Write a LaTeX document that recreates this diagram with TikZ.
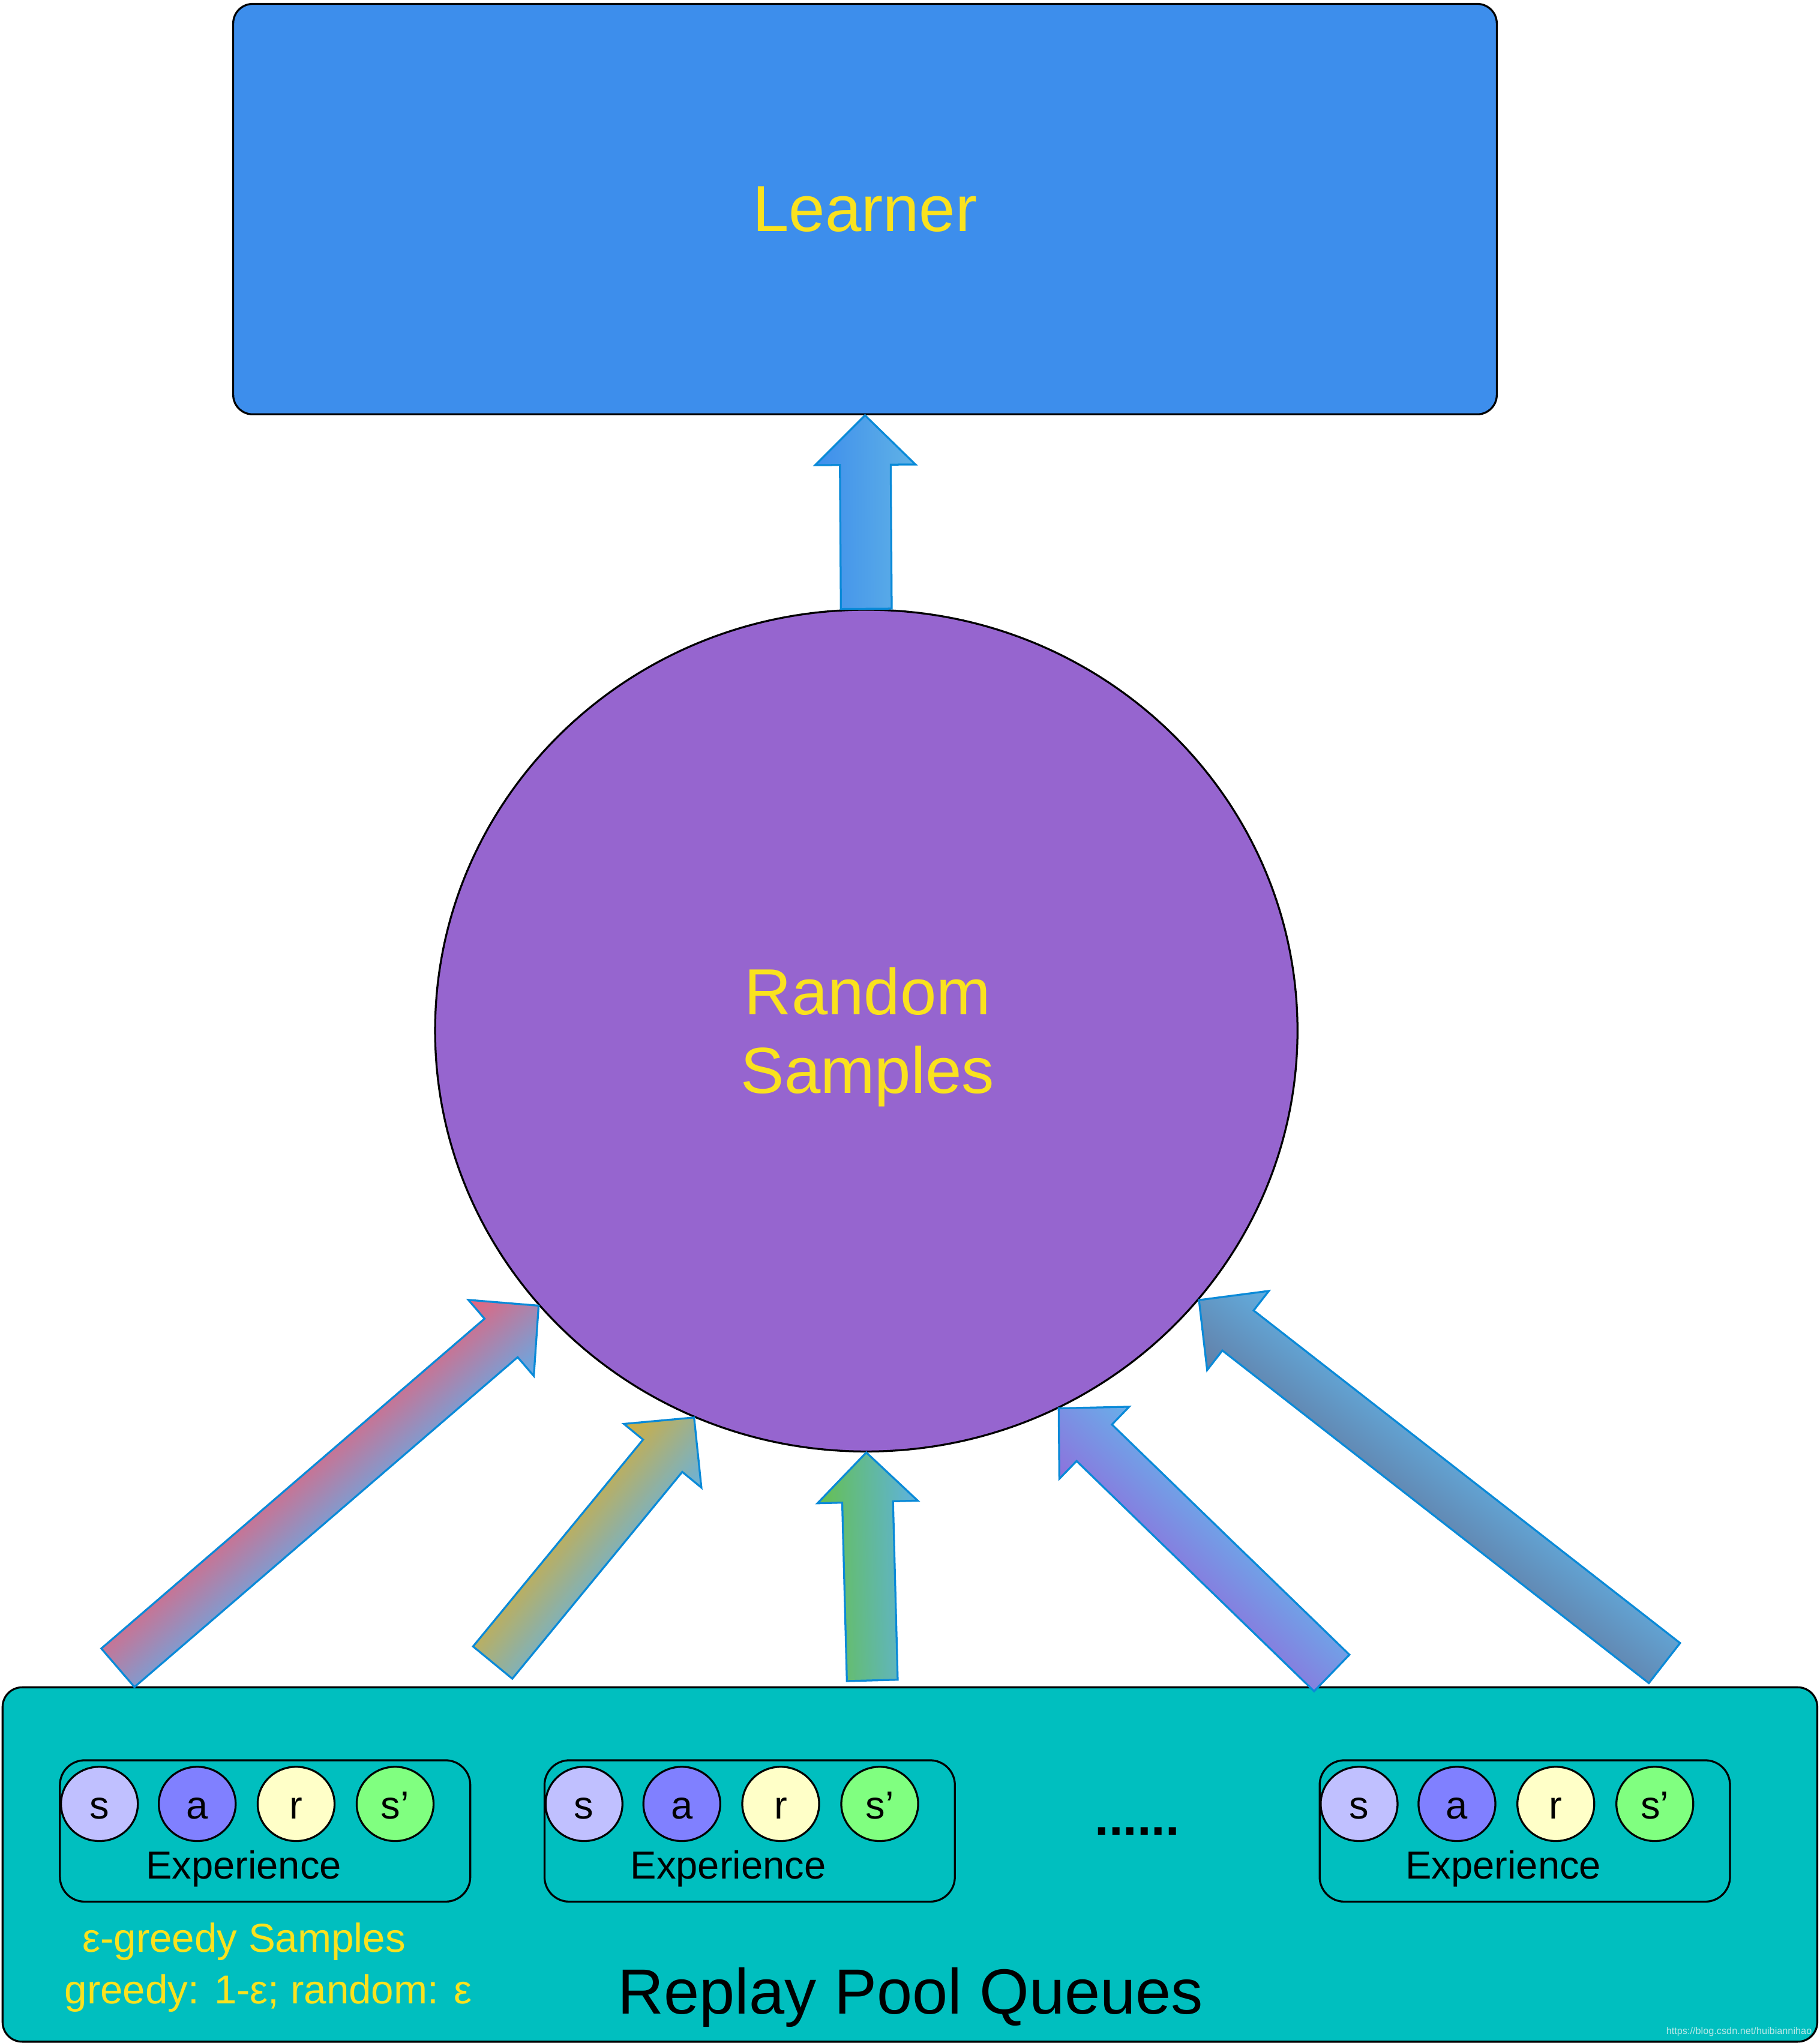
\documentclass[tikz,border=0pt]{standalone}
\usepackage{fontspec}
\setmainfont{Liberation Sans}
\usetikzlibrary{calc,shapes.geometric}

\definecolor{learnerblue}{RGB}{61,142,236}
\definecolor{circpurple}{RGB}{150,101,207}
\definecolor{poolteal}{RGB}{0,191,191}
\definecolor{ylw}{RGB}{250,226,30}
\definecolor{arrowedge}{RGB}{10,138,216}
\definecolor{cS}{RGB}{192,192,255}
\definecolor{cA}{RGB}{128,128,255}
\definecolor{cR}{RGB}{255,255,200}
\definecolor{cSp}{RGB}{128,255,128}
\definecolor{wmkcol}{RGB}{185,232,232}

% block arrow from named point #1 (tail) to named point #2 (tip);
% #3 = colour on the left side, #4 = colour on the right side
\newcommand\blockarrow[4]{%
  \path let \p1=($(#2)-(#1)$) in \pgfextra{%
    \pgfmathsetmacro\baang{atan2(\y1,\x1)}%
    \pgfmathsetmacro\balen{veclen(\x1,\y1)}%
    \pgfmathsetmacro\baneck{\balen-38}%
    \xdef\baang{\baang}\xdef\balen{\balen}\xdef\baneck{\baneck}};
  \begin{scope}[transform canvas={shift={(#1)},rotate=\baang}]
    \path[blockarrowstyle,top color=#3,bottom color=#4]
      (0pt,19.5pt) -- (\baneck pt,19.5pt) -- (\baneck pt,38.5pt) -- (\balen pt,0pt)
      -- (\baneck pt,-38.5pt) -- (\baneck pt,-19.5pt) -- (0pt,-19.5pt) -- cycle;
  \end{scope}}

\begin{document}
\begin{tikzpicture}[x=1pt,y=-1pt,
  blk/.style={draw=black,line width=1.5pt},
  learnerbox/.style={blk,rectangle,rounded corners=15pt,fill=learnerblue,minimum width=970pt,minimum height=315pt,inner sep=0pt,text=ylw,font=\fontsize{50pt}{60pt}\selectfont},
  samplecircle/.style={blk,ellipse,fill=circpurple,minimum width=662pt,minimum height=646pt,inner sep=0pt},
  bigtext/.style={text=ylw,align=center,font=\fontsize{50pt}{60.5pt}\selectfont,inner sep=0pt},
  poolbox/.style={blk,rectangle,rounded corners=15pt,fill=poolteal,minimum width=1393pt,minimum height=272pt,inner sep=0pt},
  pooltext/.style={font=\fontsize{49pt}{58pt}\selectfont,inner sep=0pt,anchor=base},
  expbox/.style={blk,rectangle,rounded corners=19pt,minimum width=315pt,minimum height=108.5pt,inner sep=0pt},
  ltr/.style={blk,ellipse,minimum width=59pt,minimum height=57pt,inner sep=0pt,text height=23pt,text depth=0pt,font=\fontsize{30pt}{36pt}\selectfont},
  exptext/.style={font=\fontsize{30pt}{36pt}\selectfont,inner sep=0pt,anchor=base},
  ytext/.style={text=ylw,font=\fontsize{31pt}{37pt}\selectfont,inner sep=0pt,anchor=base west},
  ellipsisdots/.style={font=\bfseries\fontsize{39pt}{45pt}\selectfont,inner sep=0pt,anchor=base},
  wmk/.style={text=wmkcol,font=\fontsize{7.5pt}{9pt}\selectfont,inner sep=0pt,anchor=base east},
  blockarrowstyle/.style={draw=arrowedge,line width=1.5pt,line join=miter}
]
\useasboundingbox (0,0) rectangle (1397,1568);
\fill[white] (0,0) rectangle (1397,1568);

% Learner
\node[learnerbox] (learner) at (664,160.5) {Learner};

% Random samples
\node[samplecircle] (rs) at (665,791) {};
\node[bigtext] (rstext) at (666,796) {Random\\Samples};

% Replay pool
\node[poolbox] (pool) at (698.5,1431) {};
\node[pooltext] (pooltxt) at (699,1545.5) {Replay Pool Queues};

\foreach \i/\bx in {1/46,2/418,3/1013} {
  \node[expbox] (exp\i) at (\bx+157.5,1405.25) {};
  \node[ltr,fill=cS]  (s\i)  at (\bx+30.3,1384.5) {s};
  \node[ltr,fill=cA]  (a\i)  at (\bx+105.4,1384.5) {a};
  \node[ltr,fill=cR]  (r\i)  at (\bx+181.3,1384.5) {r};
  \node[ltr,fill=cSp] (sp\i) at (\bx+257.3,1384.5) {s’};
  \node[exptext] (et\i) at (\bx+141,1442.2) {Experience};
}
\node[ellipsisdots] (more) at (873,1408.5) {......};

\node[ytext] (eps1) at (63,1498.3) {ε-greedy Samples};
\node[ytext] (eps2) at (49.4,1538) {greedy: 1-ε; random: ε};

\node[wmk] (wm) at (1391,1561.5) {https://blog.csdn.net/huibiannihao};

% arrow end points
\coordinate (t1) at (90.5,1280);
\coordinate (t2) at (378.2,1276);
\coordinate (t3) at (669.6,1289.7);
\coordinate (t4) at (1022.3,1284);
\coordinate (t5) at (1277.7,1276.4);
\coordinate (h1) at (rs.220.2);
\coordinate (h2) at (rs.246.2);
\coordinate (h3) at (rs.270.5);
\coordinate (h4) at (rs.297.4);
\coordinate (h5) at (rs.321.5);

% arrows
\blockarrow{rs.north}{learner.south}{{rgb,255:red,62;green,142;blue,236}}{{rgb,255:red,96;green,178;blue,230}}
\blockarrow{t1}{h1}{{rgb,255:red,232;green,98;blue,122}}{{rgb,255:red,98;green,172;blue,232}}
\blockarrow{t2}{h2}{{rgb,255:red,212;green,174;blue,58}}{{rgb,255:red,104;green,178;blue,222}}
\blockarrow{t3}{h3}{{rgb,255:red,102;green,192;blue,78}}{{rgb,255:red,94;green,178;blue,224}}
\blockarrow{t4}{h4}{{rgb,255:red,142;green,112;blue,220}}{{rgb,255:red,104;green,176;blue,234}}
\blockarrow{t5}{h5}{{rgb,255:red,98;green,126;blue,166}}{{rgb,255:red,98;green,174;blue,224}}
\end{tikzpicture}
\end{document}
